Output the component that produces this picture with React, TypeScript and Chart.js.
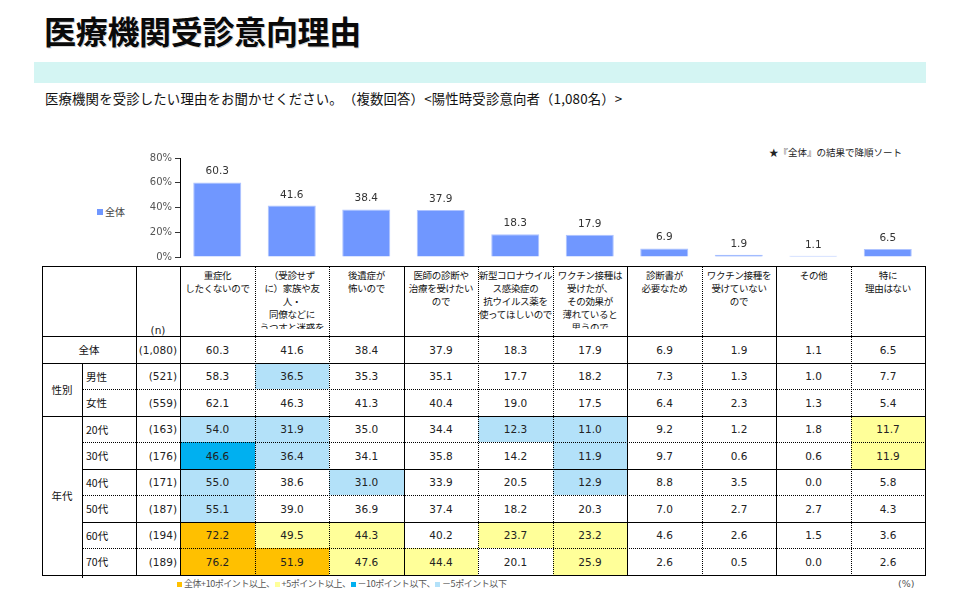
import React, { useEffect, useRef } from 'react';
import { Chart, registerables } from 'chart.js';

Chart.register(...registerables);

// ---------------- data ----------------
const categoryHeaders: string[][] = [
  ['重症化', 'したくないので'],
  ['（受診せず', 'に）家族や友', '人・', '同僚などに', 'うつすと迷惑を'],
  ['後遺症が', '怖いので'],
  ['医師の診断や', '治療を受けたい', 'ので'],
  ['新型コロナウイル', 'ス感染症の', '抗ウイルス薬を', '使ってほしいので'],
  ['ワクチン接種は', '受けたが、', 'その効果が', '薄れていると', '思うので'],
  ['診断書が', '必要なため'],
  ['ワクチン接種を', '受けていない', 'ので'],
  ['その他'],
  ['特に', '理由はない'],
];

const yTickValues = [0, 20, 40, 60, 80];

const totalLabel = '全体';
const totalN = '(1,080)';
const overallValues = [60.3, 41.6, 38.4, 37.9, 18.3, 17.9, 6.9, 1.9, 1.1, 6.5];

const genderGroupLabel = '性別';
const genderLabels = ['男性', '女性'];
const genderNs = ['(521)', '(559)'];
const maleValues = [58.3, 36.5, 35.3, 35.1, 17.7, 18.2, 7.3, 1.3, 1.0, 7.7];
const femaleValues = [62.1, 46.3, 41.3, 40.4, 19.0, 17.5, 6.4, 2.3, 1.3, 5.4];

const ageGroupLabel = '年代';
const ageLabels = ['20代', '30代', '40代', '50代', '60代', '70代'];
const ageNs = ['(163)', '(176)', '(171)', '(187)', '(194)', '(189)'];
const age20Values = [54.0, 31.9, 35.0, 34.4, 12.3, 11.0, 9.2, 1.2, 1.8, 11.7];
const age30Values = [46.6, 36.4, 34.1, 35.8, 14.2, 11.9, 9.7, 0.6, 0.6, 11.9];
const age40Values = [55.0, 38.6, 31.0, 33.9, 20.5, 12.9, 8.8, 3.5, 0.0, 5.8];
const age50Values = [55.1, 39.0, 36.9, 37.4, 18.2, 20.3, 7.0, 2.7, 2.7, 4.3];
const age60Values = [72.2, 49.5, 44.3, 40.2, 23.7, 23.2, 4.6, 2.6, 1.5, 3.6];
const age70Values = [76.2, 51.9, 47.6, 44.4, 20.1, 25.9, 2.6, 0.5, 0.0, 2.6];

const titleText = '医療機関受診意向理由';
const subtitleText = '医療機関を受診したい理由をお聞かせください。（複数回答）<陽性時受診意向者（1,080名）>';
const sortNote = '★『全体』の結果で降順ソート';
const legendItems = [
  { text: '全体+10ポイント以上、', color: '#ffc000' },
  { text: '+5ポイント以上、', color: '#ffff99' },
  { text: '－10ポイント以下、', color: '#00b0f0' },
  { text: '－5ポイント以下', color: '#b3e1f9' },
];

// ---------------- layout ----------------
const CJK = "'Noto Sans CJK JP', 'Noto Sans', sans-serif";
const NUM = "'DejaVu Sans', 'Noto Sans CJK JP', sans-serif";
const TABLE_LEFT = 42;
const GROUP_RIGHT = 82;
const LABEL_RIGHT = 136;
const DATA_LEFT = 180;
const COL_W = 74.5;
const HEADER_TOP = 266;
const HEADER_BOTTOM = 336;
const ROW_H = 26.5;
const colX = (i: number) => Math.round(DATA_LEFT + COL_W * i);
const rowY = (i: number) => Math.round(HEADER_BOTTOM + ROW_H * i);
const TABLE_RIGHT = colX(10);
const innerColStyles = ['dotted', 'dotted', 'solid', 'dotted', 'dotted', 'solid', 'dotted', 'solid', 'dotted'];

function fillFor(v: number, base: number): string | null {
  const d = Math.round((v - base) * 10) / 10;
  if (d >= 10) return '#ffc000';
  if (d >= 5) return '#ffff99';
  if (d <= -10) return '#00b0f0';
  if (d <= -5) return '#b3e1f9';
  return null;
}

const HLine = ({ x1, x2, y, s }: { x1: number; x2: number; y: number; s: string }) => (
  <div style={{ position: 'absolute', left: x1, top: y, width: x2 - x1 + 1, height: 0, borderTop: `1px ${s} #000` }} />
);
const VLine = ({ x, y1, y2, s }: { x: number; y1: number; y2: number; s: string }) => (
  <div style={{ position: 'absolute', left: x, top: y1, width: 0, height: y2 - y1 + 1, borderLeft: `1px ${s} #000` }} />
);

const labelPlugin = {
  id: 'barValueLabels',
  afterDatasetsDraw(chart: any) {
    const ctx = chart.ctx;
    const meta = chart.getDatasetMeta(0);
    const data = chart.data.datasets[0].data as number[];
    ctx.save();
    ctx.font = `10.5px 'DejaVu Sans'`;
    ctx.fillStyle = '#333';
    ctx.textAlign = 'center';
    ctx.textBaseline = 'alphabetic';
    meta.data.forEach((el: any, i: number) => {
      ctx.fillText(data[i].toFixed(1), el.x, el.y - 8);
    });
    ctx.restore();
  },
};

export default function App() {
  const canvasRef = useRef<HTMLCanvasElement>(null);

  useEffect(() => {
    const chart = new Chart(canvasRef.current as HTMLCanvasElement, {
      type: 'bar',
      data: {
        labels: categoryHeaders.map((l) => l.join('')),
        datasets: [
          {
            label: totalLabel,
            data: overallValues,
            backgroundColor: '#7097ff',
            borderColor: '#aec3ff',
            borderWidth: 1,
            categoryPercentage: 1,
            barPercentage: 0.645,
          },
        ],
      },
      options: {
        responsive: false,
        animation: false,
        layout: { padding: { left: 0, right: 35, top: 18, bottom: 8 } },
        plugins: { legend: { display: false }, tooltip: { enabled: false } },
        scales: {
          x: { display: false },
          y: {
            min: yTickValues[0],
            max: yTickValues[yTickValues.length - 1],
            afterBuildTicks: (s: any) => {
              s.ticks = yTickValues.map((v) => ({ value: v }));
            },
            ticks: {
              callback: (v: any) => `${v}%`,
              font: { size: 10, family: 'DejaVu Sans' },
              color: '#555',
              padding: 3,
            },
            grid: { drawOnChartArea: false, drawTicks: true, tickLength: 5, color: '#333' },
            border: { display: true, color: '#000', width: 1 },
            afterFit: (s: any) => {
              s.width = DATA_LEFT;
            },
          },
        },
      },
      plugins: [labelPlugin],
    } as any);
    return () => chart.destroy();
  }, []);

  const bodyRows = [
    { label: totalLabel, n: totalN, values: overallValues, total: true },
    { label: genderLabels[0], n: genderNs[0], values: maleValues },
    { label: genderLabels[1], n: genderNs[1], values: femaleValues },
    { label: ageLabels[0], n: ageNs[0], values: age20Values },
    { label: ageLabels[1], n: ageNs[1], values: age30Values },
    { label: ageLabels[2], n: ageNs[2], values: age40Values },
    { label: ageLabels[3], n: ageNs[3], values: age50Values },
    { label: ageLabels[4], n: ageNs[4], values: age60Values },
    { label: ageLabels[5], n: ageNs[5], values: age70Values },
  ];

  const hStyles = ['solid', 'solid', 'dotted', 'solid', 'dotted', 'solid', 'dotted', 'solid', 'dotted', 'solid'];
  const hStart = [TABLE_LEFT, TABLE_LEFT, GROUP_RIGHT, TABLE_LEFT, GROUP_RIGHT, GROUP_RIGHT, GROUP_RIGHT, GROUP_RIGHT, GROUP_RIGHT, TABLE_LEFT];
  const tableBottom = rowY(9);

  const rootStyle: any = {
    position: 'absolute', left: 0, top: 0, width: 960, height: 606, background: '#fff',
    fontFamily: CJK, color: '#000', overflow: 'hidden', textSpacingTrim: 'space-all',
  };

  return (
    <div style={rootStyle}>
      <div style={{ position: 'absolute', left: 44, top: 13, fontSize: 32, lineHeight: '34px', fontWeight: 700, letterSpacing: -0.3, textShadow: '1px 1px 0 rgba(0,0,0,0.18)', whiteSpace: 'nowrap', color: '#0a0a0a' }}>
        {titleText}
      </div>
      <div style={{ position: 'absolute', left: 34, top: 62, width: 892, height: 21, background: '#d4f5f3' }} />
      <div style={{ position: 'absolute', left: 45, top: 89, fontSize: 13.4, lineHeight: '18px', letterSpacing: 0.15, whiteSpace: 'nowrap', color: '#111' }}>
        {subtitleText}
      </div>
      <div style={{ position: 'absolute', left: 769, top: 145, fontSize: 9.5, lineHeight: '14px', whiteSpace: 'nowrap', color: '#222' }}>
        {sortNote}
      </div>
      <div style={{ position: 'absolute', left: 97, top: 205, fontSize: 10, lineHeight: '14px', whiteSpace: 'nowrap', color: '#444', display: 'flex', alignItems: 'center' }}>
        <span style={{ display: 'inline-block', width: 6, height: 6, background: '#7097ff', marginRight: 2 }} />
        {totalLabel}
      </div>

      <canvas ref={canvasRef} width={960} height={126} style={{ position: 'absolute', left: 0, top: 140, width: 960, height: 126 }} />

      {/* cell fills */}
      {bodyRows.map((r, ri) =>
        r.total
          ? null
          : r.values.map((v, ci) => {
              const f = fillFor(v, overallValues[ci]);
              return f ? (
                <div key={`f${ri}-${ci}`} style={{ position: 'absolute', left: colX(ci), top: rowY(ri), width: colX(ci + 1) - colX(ci), height: rowY(ri + 1) - rowY(ri), background: f }} />
              ) : null;
            })
      )}

      {/* header texts */}
      {categoryHeaders.map((lines, ci) => (
        <div key={`h${ci}`} style={{ position: 'absolute', left: colX(ci), top: HEADER_TOP + 1, width: colX(ci + 1) - colX(ci), height: 62, overflow: 'hidden', textAlign: 'center', paddingTop: 2, boxSizing: 'border-box', fontSize: 9.5, lineHeight: '13px', letterSpacing: -0.3, color: '#111' }}>
          {lines.map((l, li) => (
            <div key={li} style={{ whiteSpace: 'nowrap' }}>{l}</div>
          ))}
        </div>
      ))}
      <div style={{ position: 'absolute', left: LABEL_RIGHT, top: 323, width: DATA_LEFT - LABEL_RIGHT, textAlign: 'center', fontSize: 10.5, lineHeight: '14px', fontFamily: NUM, color: '#222' }}>(n)</div>

      {/* body texts */}
      {bodyRows.map((r, ri) => (
        <React.Fragment key={`r${ri}`}>
          <div style={{ position: 'absolute', left: r.total ? TABLE_LEFT : GROUP_RIGHT + 4, top: rowY(ri), width: r.total ? LABEL_RIGHT - TABLE_LEFT : LABEL_RIGHT - GROUP_RIGHT - 4, height: rowY(ri + 1) - rowY(ri), display: 'flex', alignItems: 'center', justifyContent: r.total ? 'center' : 'flex-start', fontSize: 10.5, color: '#111' }}>
            {r.label}
          </div>
          <div style={{ position: 'absolute', left: LABEL_RIGHT, top: rowY(ri), width: DATA_LEFT - LABEL_RIGHT - 3, height: rowY(ri + 1) - rowY(ri), display: 'flex', alignItems: 'center', justifyContent: 'flex-end', fontSize: 10.5, fontFamily: NUM, color: '#222' }}>
            {r.n}
          </div>
          {r.values.map((v, ci) => (
            <div key={ci} style={{ position: 'absolute', left: colX(ci), top: rowY(ri), width: colX(ci + 1) - colX(ci), height: rowY(ri + 1) - rowY(ri), display: 'flex', alignItems: 'center', justifyContent: 'center', fontSize: 10.5, fontFamily: NUM, color: '#222' }}>
              {v.toFixed(1)}
            </div>
          ))}
        </React.Fragment>
      ))}
      <div style={{ position: 'absolute', left: TABLE_LEFT, top: rowY(1), width: GROUP_RIGHT - TABLE_LEFT, height: rowY(3) - rowY(1), display: 'flex', alignItems: 'center', justifyContent: 'center', fontSize: 10.5, color: '#111' }}>
        {genderGroupLabel}
      </div>
      <div style={{ position: 'absolute', left: TABLE_LEFT, top: rowY(3), width: GROUP_RIGHT - TABLE_LEFT, height: rowY(9) - rowY(3), display: 'flex', alignItems: 'center', justifyContent: 'center', fontSize: 10.5, color: '#111' }}>
        {ageGroupLabel}
      </div>

      {/* grid lines */}
      <HLine x1={TABLE_LEFT} x2={TABLE_RIGHT} y={HEADER_TOP} s="solid" />
      {hStyles.map((s, i) => (
        <HLine key={`hl${i}`} x1={hStart[i]} x2={TABLE_RIGHT} y={rowY(i)} s={s} />
      ))}
      <VLine x={TABLE_LEFT} y1={HEADER_TOP} y2={tableBottom} s="solid" />
      <VLine x={GROUP_RIGHT} y1={rowY(1)} y2={tableBottom + 2} s="solid" />
      <VLine x={LABEL_RIGHT} y1={HEADER_TOP} y2={tableBottom} s="solid" />
      <VLine x={colX(0)} y1={HEADER_TOP} y2={tableBottom} s="solid" />
      {innerColStyles.map((s, i) => (
        <VLine key={`vl${i}`} x={colX(i + 1)} y1={HEADER_TOP} y2={tableBottom} s={s} />
      ))}
      <VLine x={TABLE_RIGHT} y1={HEADER_TOP} y2={tableBottom} s="solid" />

      {/* bottom legend */}
      <div style={{ position: 'absolute', left: 177, top: 577, fontSize: 9, lineHeight: '14px', letterSpacing: -0.45, color: '#555', whiteSpace: 'nowrap', display: 'flex', alignItems: 'center' }}>
        {legendItems.map((it, i) => (
          <React.Fragment key={i}>
            <span style={{ display: 'inline-block', width: 5, height: 5, background: it.color, marginRight: 2 }} />
            <span>{it.text}</span>
          </React.Fragment>
        ))}
      </div>
      <div style={{ position: 'absolute', left: 898, top: 577, fontSize: 9.5, lineHeight: '14px', color: '#555', fontFamily: NUM }}>(%)</div>
    </div>
  );
}
